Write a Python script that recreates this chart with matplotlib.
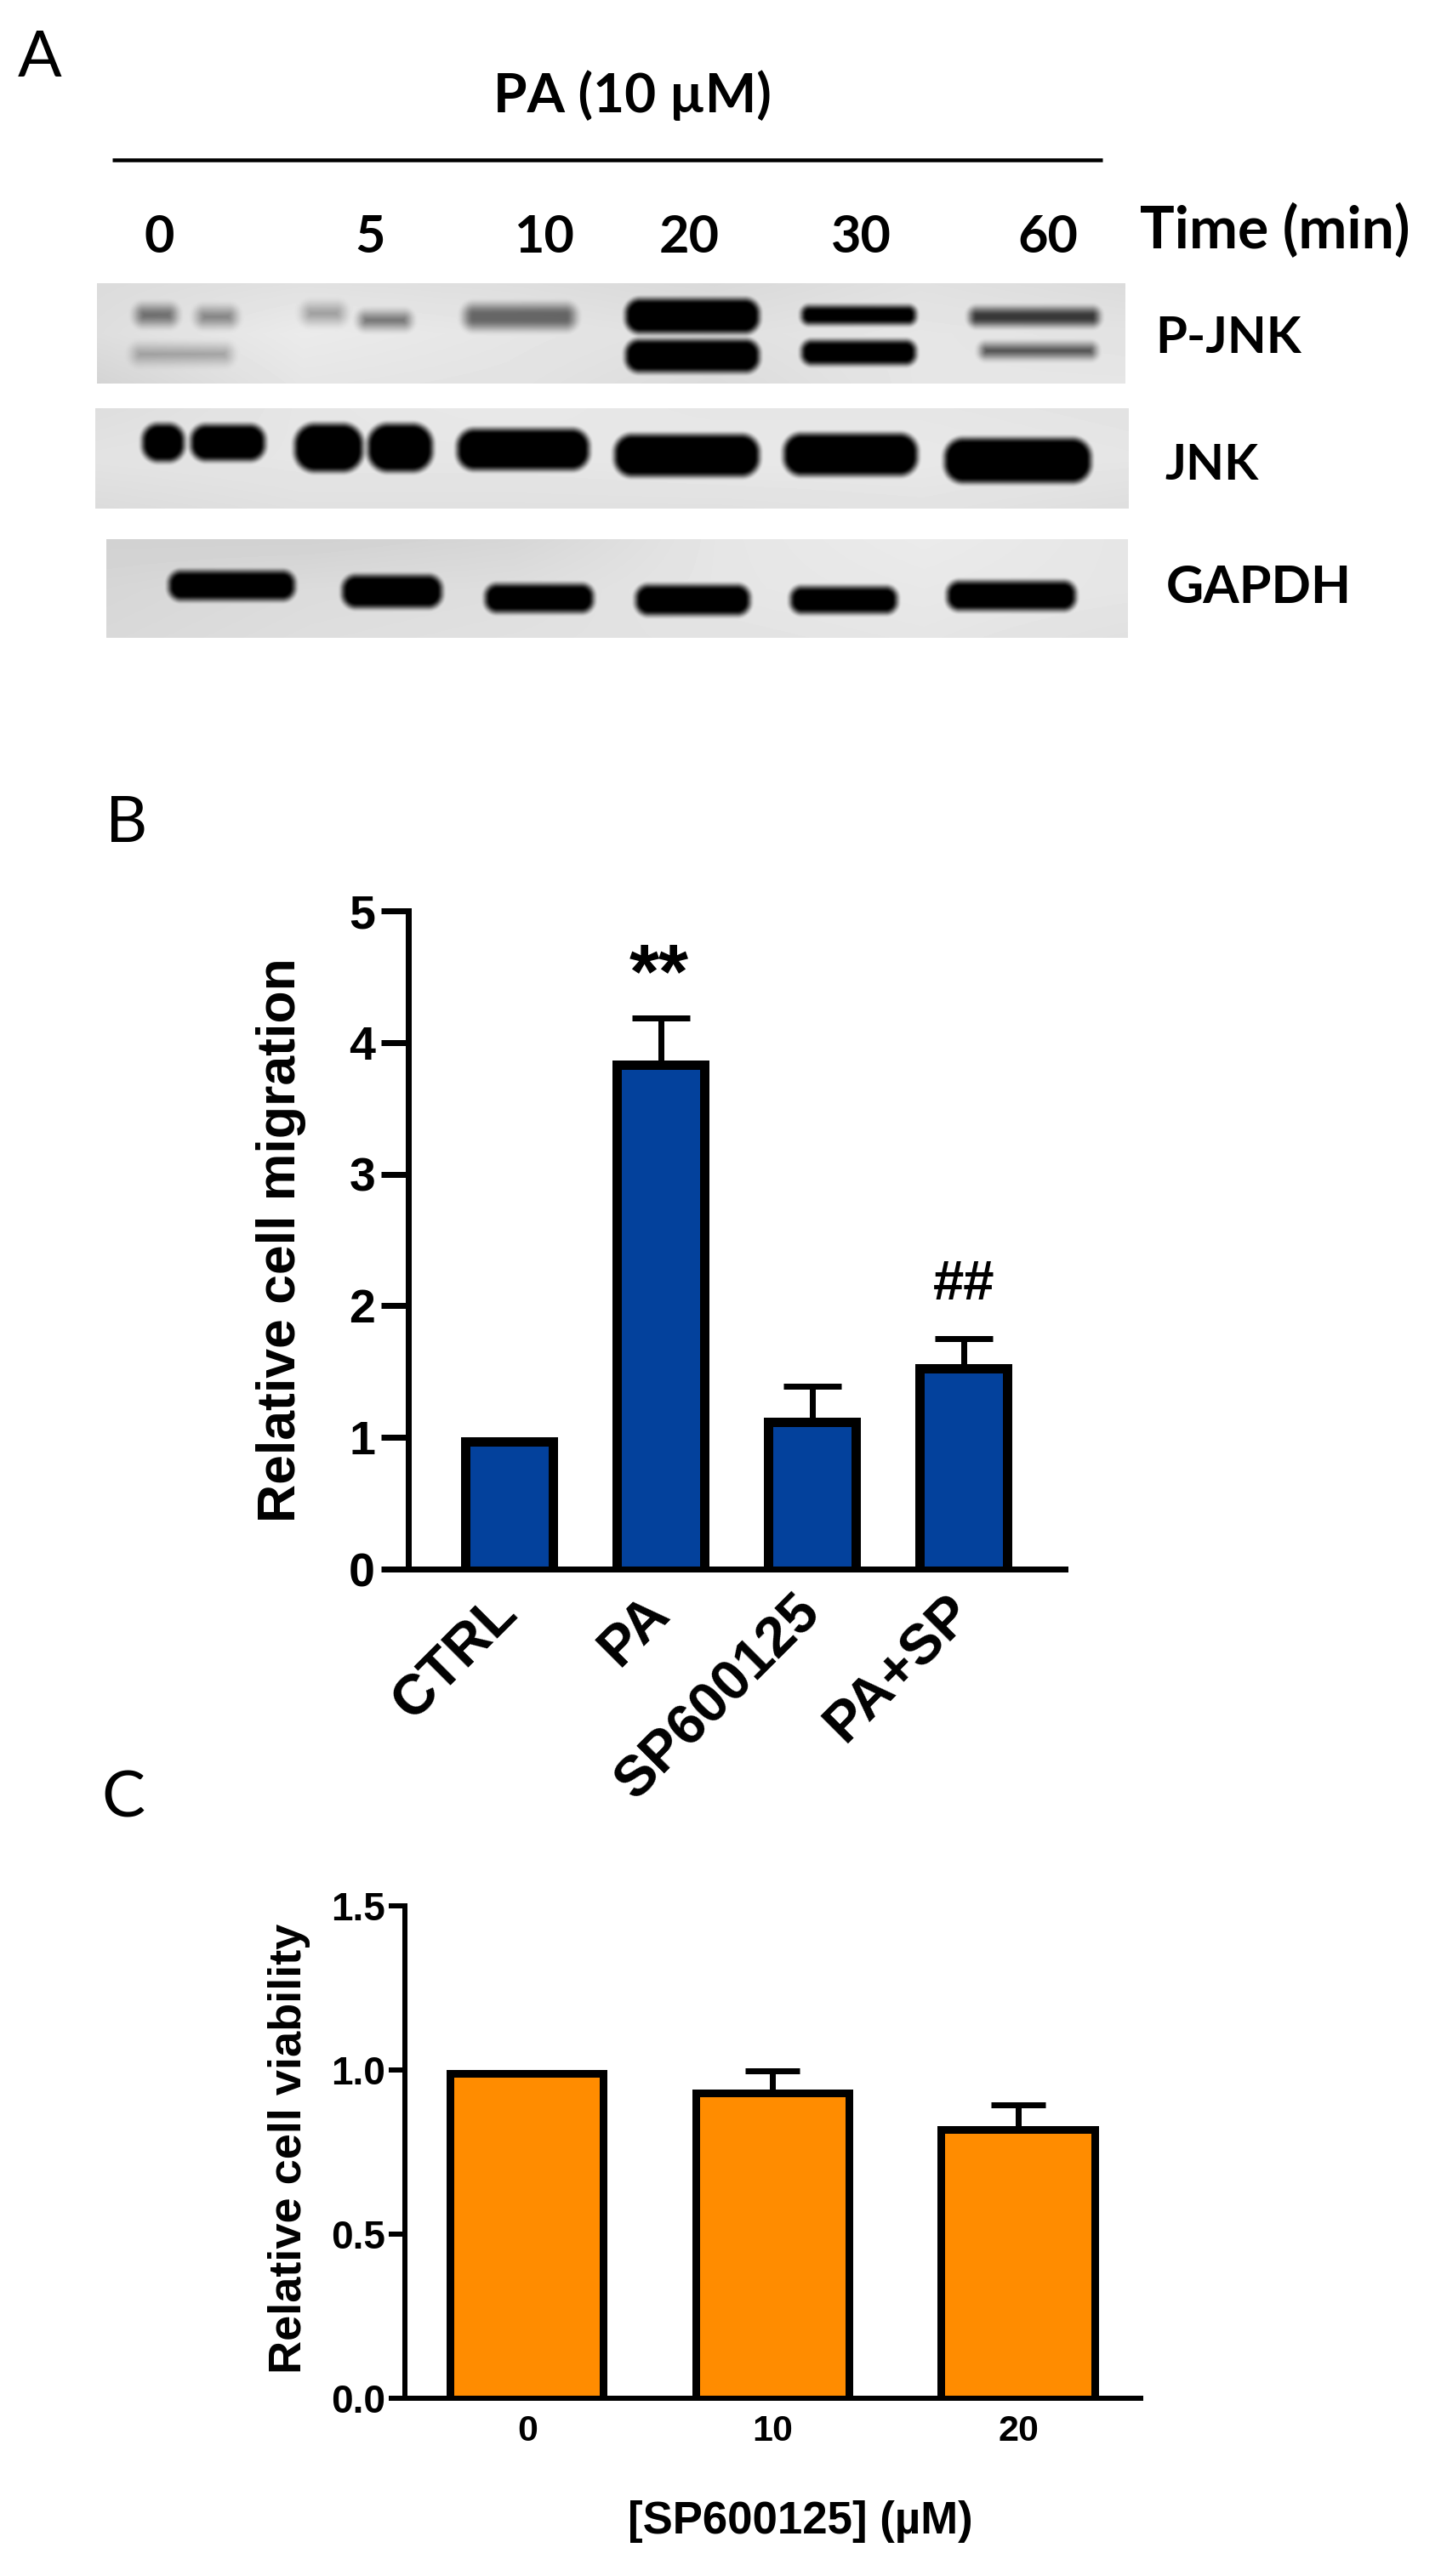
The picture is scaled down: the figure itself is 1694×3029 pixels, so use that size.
# Western blots and two bar charts (panels A, B, C)

import numpy as np
import matplotlib
matplotlib.use("Agg")
import matplotlib.pyplot as plt

W = 1694
H = 3029
DPI = 100

# panel A labels
time_labels = ["0", "5", "10", "20", "30", "60"]
time_x = [187, 435, 639, 810, 1012, 1232]

# blots, bands are (x0, x1, yc, height, darkness) in image pixels
pjnk_box = (114, 1323, 333, 451)
pjnk_bg = [[0.86, 0.88, 0.87, 0.85, 0.88, 0.86],
           [0.87, 0.92, 0.90, 0.88, 0.90, 0.89],
           [0.83, 0.90, 0.89, 0.86, 0.90, 0.90]]
pjnk_bands = [(160, 206, 370, 20, 0.50), (232, 276, 372, 18, 0.42), (157, 270, 416, 16, 0.30),
              (357, 403, 368, 18, 0.32), (423, 481, 376, 16, 0.50),
              (546, 675, 372, 26, 0.55),
              (735, 892, 371, 40, 1.0), (735, 892, 418, 38, 1.0),
              (942, 1076, 370, 21, 1.0), (942, 1076, 414, 28, 1.0),
              (1140, 1291, 372, 19, 0.75), (1153, 1287, 412, 14, 0.65)]

jnk_box = (112, 1327, 480, 598)
jnk_bg = [[0.87, 0.90, 0.91, 0.90, 0.90, 0.89],
          [0.89, 0.90, 0.90, 0.91, 0.91, 0.90],
          [0.86, 0.88, 0.88, 0.88, 0.89, 0.87]]
jnk_bands = [(167, 216, 520, 44, 1.0), (224, 311, 520, 42, 1.0),
             (346, 426, 526, 56, 1.0), (432, 508, 526, 56, 1.0),
             (537, 692, 528, 48, 1.0),
             (722, 892, 535, 49, 1.0),
             (921, 1078, 534, 49, 1.0),
             (1110, 1282, 541, 52, 1.0)]

gapdh_box = (125, 1326, 634, 750)
gapdh_bg = [[0.82, 0.82, 0.84, 0.90, 0.92, 0.90],
            [0.84, 0.86, 0.87, 0.90, 0.91, 0.90],
            [0.85, 0.87, 0.88, 0.89, 0.90, 0.88]]
gapdh_bands = [(198, 346, 688, 34, 1.0), (402, 519, 695, 38, 1.0),
               (570, 697, 703, 33, 1.0), (747, 881, 705, 35, 1.0),
               (929, 1054, 705, 31, 1.0), (1113, 1264, 700, 34, 1.0)]

# panel B
mig_labels = ["CTRL", "PA", "SP600125", "PA+SP"]
mig_values = [1.0, 3.86, 1.15, 1.56]
mig_errors = [0.0, 0.326, 0.237, 0.19]
mig_ticks = [0, 1, 2, 3, 4, 5]

# panel C
via_labels = ["0", "10", "20"]
via_values = [1.0, 0.94, 0.83]
via_errors = [0.0, 0.057, 0.063]
via_ticks = [0.0, 0.5, 1.0, 1.5]

LATO = ["Lato", "DejaVu Sans"]
ARIAL = ["Liberation Sans", "DejaVu Sans"]


def pt(px):
    return px * 72.0 / DPI


def smooth_step(v):
    v = np.clip(v, 0, 1)
    return v ** 2 * (3 - 2 * v)


def draw_blot(ax, box, bg, bands):
    x0, x1, y0, y1 = box
    xx, yy = np.meshgrid(np.arange(x0, x1), np.arange(y0, y1))
    bg = np.array(bg)

    # background from the coarse grey grid
    gx = (xx - x0) / (x1 - x0) * (bg.shape[1] - 1)
    gy = (yy - y0) / (y1 - y0) * (bg.shape[0] - 1)
    ix = np.clip(gx.astype(int), 0, bg.shape[1] - 2)
    iy = np.clip(gy.astype(int), 0, bg.shape[0] - 2)
    fx = gx - ix
    fy = gy - iy
    img = (bg[iy, ix] * (1 - fx) * (1 - fy) + bg[iy, ix + 1] * fx * (1 - fy)
           + bg[iy + 1, ix] * (1 - fx) * fy + bg[iy + 1, ix + 1] * fx * fy)

    # rounded box distance, soft edge wider on the weak bands
    for bx0, bx1, yc, bh, dark in bands:
        xc = (bx0 + bx1) / 2.0
        rx = (bx1 - bx0) / 2.0
        ry = bh / 2.0
        r = ry * 0.85
        qx = np.abs(xx - xc) - rx + r
        qy = np.abs(yy - yc) - ry + r
        sd = np.hypot(np.maximum(qx, 0), np.maximum(qy, 0)) + np.minimum(np.maximum(qx, qy), 0) - r
        soft = 6 + 10 * (1 - dark)
        edge = smooth_step((soft - sd) / (2 * soft))
        img = img * (1 - dark * edge)

    ax.imshow(img, cmap="gray", vmin=0, vmax=1, extent=(x0, x1, y1, y0),
              aspect="auto", interpolation="bilinear", zorder=1)


def bar_panel(box, xlim, ylim, values, errors, color, lw, spine_w, err_lw, cap_px, width, tick_len):
    left, right, top, bottom = box
    ax = fig.add_axes([left / W, 1 - bottom / H, (right - left) / W, (bottom - top) / H])
    ax.patch.set_alpha(0)
    x = np.arange(len(values))
    values = np.array(values)
    errors = np.array(errors)
    dx = lw * (xlim[1] - xlim[0]) / (right - left)
    dy = lw * (ylim[1] - ylim[0]) / (bottom - top)

    # upper error only, the lower cap is pushed down behind the bar
    has_err = errors > 0
    ax.errorbar(x[has_err], values[has_err], yerr=[np.full(has_err.sum(), 3 * dy), errors[has_err]],
                fmt="none", ecolor="k", elinewidth=pt(err_lw), capsize=pt(cap_px),
                capthick=pt(err_lw), zorder=2)

    # the black border sits inside the bar, so the outer top edge is the value
    ax.bar(x, values, width=width, color="k", zorder=3)
    ax.bar(x, values - dy, width=width - 2 * dx, color=color, zorder=4)
    ax.set_xlim(xlim)
    ax.set_ylim(ylim)
    ax.spines["top"].set_visible(False)
    ax.spines["right"].set_visible(False)
    ax.spines["left"].set_linewidth(pt(spine_w))
    ax.spines["bottom"].set_linewidth(pt(spine_w))
    ax.spines["bottom"].set_zorder(5)
    ax.tick_params(axis="y", length=pt(tick_len), width=pt(spine_w))
    ax.tick_params(axis="x", length=0)
    return ax


fig = plt.figure(figsize=(W / DPI, H / DPI), dpi=DPI)

# full figure axes in image pixels for panel A and the free text
bg = fig.add_axes([0, 0, 1, 1])
bg.axis("off")

draw_blot(bg, pjnk_box, pjnk_bg, pjnk_bands)
draw_blot(bg, jnk_box, jnk_bg, jnk_bands)
draw_blot(bg, gapdh_box, gapdh_bg, gapdh_bands)
bg.set_xlim(0, W)
bg.set_ylim(H, 0)

bg.plot([132, 1296], [188, 188], color="k", lw=pt(4.5), solid_capstyle="butt")

bg.text(47, 68, "A", family=LATO, fontsize=55, ha="center", va="center")
bg.text(149, 968, "B", family=LATO, fontsize=55, ha="center", va="center")
bg.text(145, 2115, "C", family=LATO, fontsize=55, ha="center", va="center")

bg.text(743, 112, "PA (10 µM)", family=LATO, weight="bold", fontsize=46, ha="center", va="center")
for lab, xp in zip(time_labels, time_x):
    bg.text(xp, 279, lab, family=LATO, weight="bold", fontsize=44, ha="center", va="center")
bg.text(1499, 271, "Time (min)", family=LATO, weight="bold", fontsize=49, ha="center", va="center")
bg.text(1444, 398, "P-JNK", family=LATO, weight="bold", fontsize=43, ha="center", va="center")
bg.text(1425, 548, "JNK", family=LATO, weight="bold", fontsize=42, ha="center", va="center")
bg.text(1480, 691, "GAPDH", family=LATO, weight="bold", fontsize=44, ha="center", va="center")

# panel B
ax1 = bar_panel((480, 1252, 1071, 1845), (-0.669, 3.669), (0, 5), mig_values, mig_errors,
                "#03419C", 11, 7, 7, 34, 0.643, 32)
ax1.set_yticks(mig_ticks)
ax1.set_yticklabels([str(v) for v in mig_ticks], family=ARIAL, weight="bold", fontsize=40)
ax1.tick_params(axis="y", pad=5)
ax1.set_xticks(range(len(mig_labels)))
ax1.set_xticklabels(mig_labels, family=ARIAL, weight="bold", fontsize=48, rotation=45,
                    ha="right", va="center", rotation_mode="anchor")
ax1.tick_params(axis="x", pad=30)
bg.text(330, 1458, "Relative cell migration", family=ARIAL, weight="bold", fontsize=45,
        rotation=90, ha="center", va="center")
ax1.text(0.99, 4.49, "**", family=ARIAL, weight="bold", fontsize=65, ha="center", va="center")
ax1.text(3, 2.16, "##", family=ARIAL, weight="bold", fontsize=47, ha="center", va="center")

# panel C
ax2 = bar_panel((476, 1341, 2241, 2820), (-0.498, 2.499), (0, 1.5), via_values, via_errors,
                "#FF8C00", 9, 6, 7, 32, 0.655, 19)
ax2.set_yticks(via_ticks)
ax2.set_yticklabels(["%.1f" % v for v in via_ticks], family=ARIAL, weight="bold", fontsize=33)
ax2.tick_params(axis="y", pad=3)
ax2.set_xticks(range(len(via_labels)))
ax2.set_xticklabels(via_labels, family=ARIAL, weight="bold", fontsize=31)
ax2.tick_params(axis="x", pad=14)
bg.text(340, 2526, "Relative cell viability", family=ARIAL, weight="bold", fontsize=39,
        rotation=90, ha="center", va="center")
bg.text(941, 2965, "[SP600125] (µM)", family=ARIAL, weight="bold", fontsize=38, ha="center", va="center")

fig.savefig("out.png", dpi=DPI)
